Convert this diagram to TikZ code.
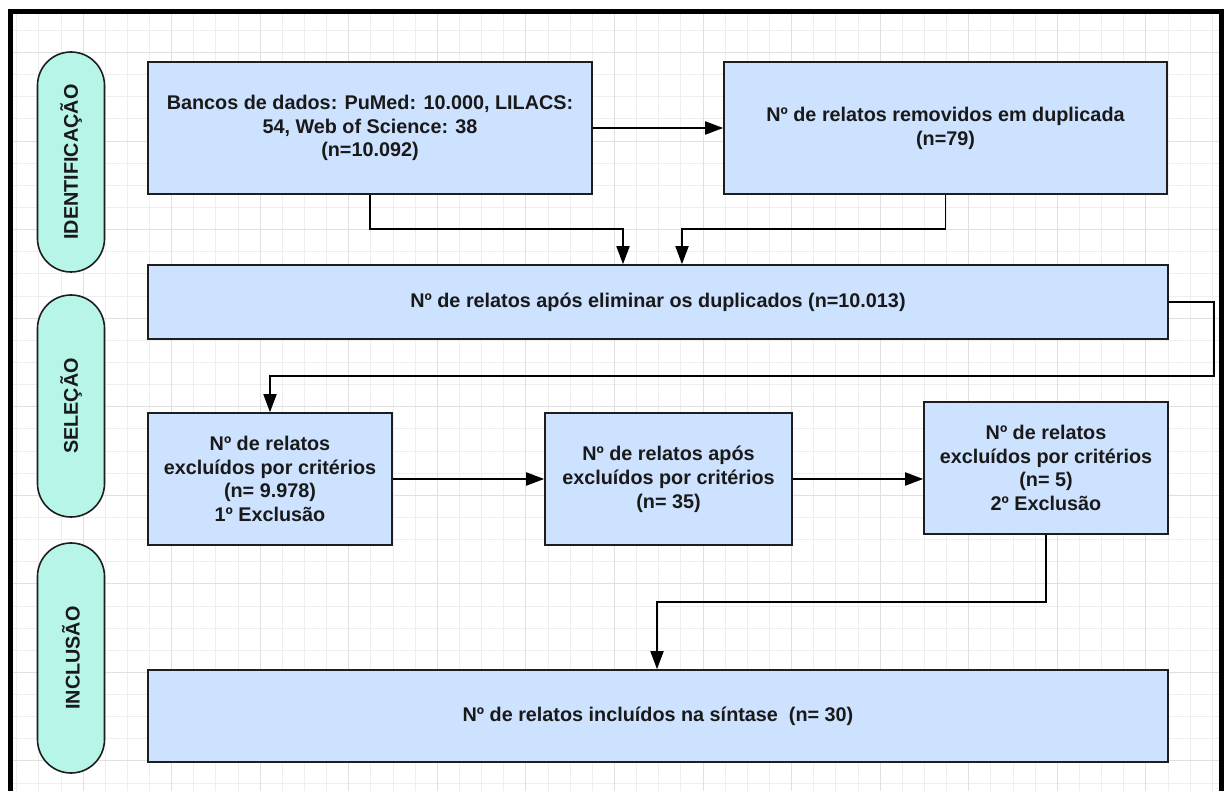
\documentclass[tikz,border=0pt]{standalone}
\usepackage{fontspec}
\setmainfont{Liberation Sans}
\usetikzlibrary{arrows.meta,shapes.misc}
\definecolor{boxfill}{RGB}{205,226,255}
\definecolor{pillfill}{RGB}{182,245,232}
\definecolor{edgecol}{RGB}{30,30,30}
\definecolor{txtcol}{RGB}{25,25,25}
\definecolor{gridminor}{RGB}{238,238,238}
\definecolor{gridmajor}{RGB}{224,224,224}
\tikzset{
  boxnode/.style={draw=edgecol, fill=boxfill, line width=1.6pt, align=center,
    inner sep=0pt, text=txtcol, font=\bfseries\fontsize{19.8}{23.8}\selectfont},
  pillnode/.style={rounded rectangle, draw=edgecol, fill=pillfill, line width=1.6pt,
    rotate=90, minimum height=67pt, inner sep=0pt, text=txtcol,
    font=\bfseries\fontsize{19.8}{23}\selectfont},
  arr/.style={draw=black, line width=1.8pt, -{Triangle[length=18pt,width=13pt]}},
}
\begin{document}
\begin{tikzpicture}[x=1pt,y=-1pt]
\useasboundingbox (0,0) rectangle (1227,791);
\fill[white] (0,0) rectangle (1227,791);
% grid
\begin{scope}
\clip (13,14) rectangle (1219,791);
\foreach \k in {-3,...,51} {\draw[gridminor, line width=0.9pt] ({83.1+22.14*\k},14) -- ({83.1+22.14*\k},791);}
\foreach \k in {-18,...,17} {\draw[gridminor, line width=0.9pt] (13,{406.7+22.14*\k}) -- (1219,{406.7+22.14*\k});}
\foreach \k in {0,4,...,48} {\draw[gridmajor, line width=1pt] ({83.1+22.14*\k},14) -- ({83.1+22.14*\k},791);}
\foreach \k in {-16,-12,...,16} {\draw[gridmajor, line width=1pt] (13,{406.7+22.14*\k}) -- (1219,{406.7+22.14*\k});}
\end{scope}
% frame
\draw[black, line width=5pt] (10.8,791) -- (10.8,12) -- (1221.5,12) -- (1221.5,791);
% pills
\node[pillnode, minimum width=220pt] (p1) at (71,162) {IDENTIFICAÇÃO};
\node[pillnode, minimum width=222pt] (p2) at (71,406) {SELEÇÃO};
\node[pillnode, minimum width=230pt] (p3) at (71,658) {INCLUSÃO};
% boxes
\node[boxnode, minimum width=444pt, minimum height=132pt] (b1) at (370,128)
  {Bancos de dados: PuMed: 10.000, LILACS:\\54, Web of Science: 38\\(n=10.092)};
\node[boxnode, minimum width=443pt, minimum height=132pt] (b2) at (945.5,128)
  {Nº de relatos removidos em duplicada\\(n=79)};
\node[boxnode, minimum width=1020pt, minimum height=74pt] (b3) at (658,302)
  {Nº de relatos após eliminar os duplicados (n=10.013)};
\node[boxnode, minimum width=244pt, minimum height=132pt] (b4) at (270,479)
  {Nº de relatos\\excluídos por critérios\\(n= 9.978)\\1º Exclusão};
\node[boxnode, minimum width=247pt, minimum height=132pt] (b5) at (668.5,479)
  {Nº de relatos após\\excluídos por critérios\\(n= 35)};
\node[boxnode, minimum width=244pt, minimum height=132pt] (b6) at (1046,468)
  {Nº de relatos\\excluídos por critérios\\(n= 5)\\2º Exclusão};
\node[boxnode, minimum width=1020pt, minimum height=92pt] (b7) at (658,716)
  {Nº de relatos incluídos na síntase~~(n= 30)};
% junctions
\coordinate (j1) at (623,229);
\coordinate (j2) at (682,229);
\coordinate (j3) at (1214,376);
\coordinate (j4) at (657,602);
% connectors
\draw[arr] (b1.east) -- (b2.west);
\draw[arr] (b1.south) |- (j1) -- (j1 |- b3.north);
\draw[arr] (b2.south) |- (j2) -- (j2 |- b3.north);
\draw[arr] (b3.east) -| (j3) -- (j3 -| b4.north) -- (b4.north);
\draw[arr] (b4.east) -- (b5.west);
\draw[arr] (b5.east) -- (b5.east -| b6.west);
\draw[arr] (b6.south) |- (j4) -- (j4 |- b7.north);
\end{tikzpicture}
\end{document}
